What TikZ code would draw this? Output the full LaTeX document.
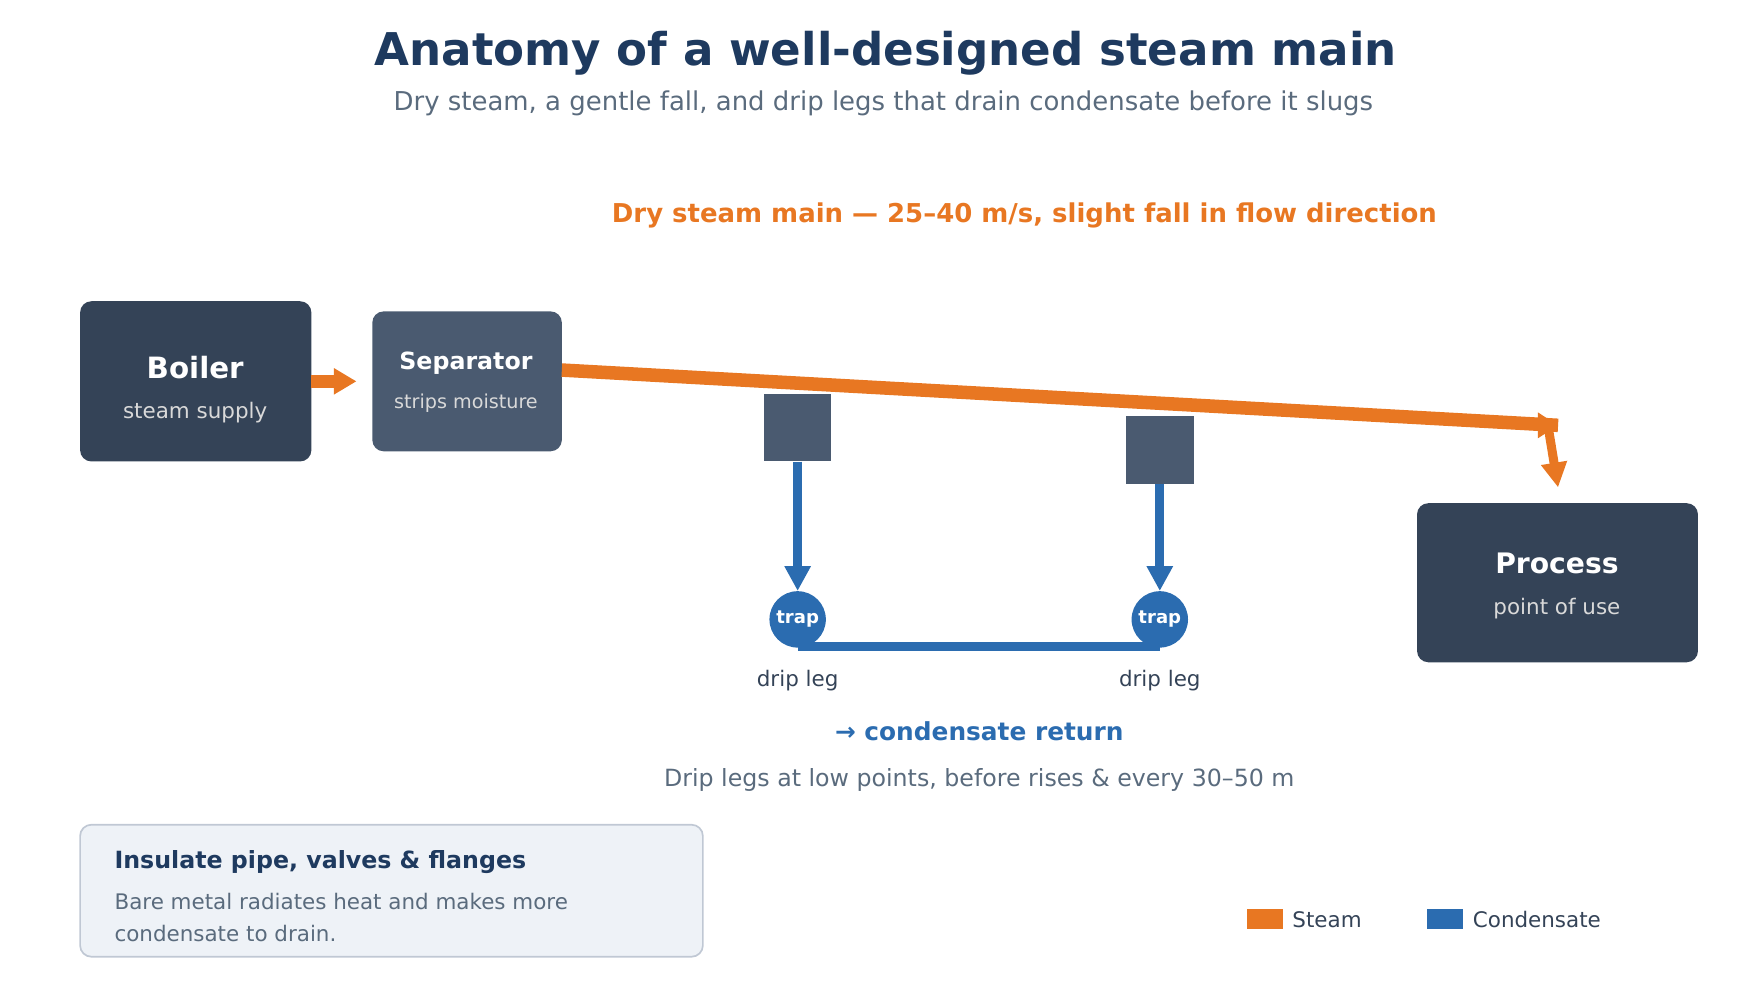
\documentclass[tikz,border=0pt]{standalone}
\usepackage{fontspec}
\setmainfont{DejaVu Sans}
\usetikzlibrary{arrows.meta,positioning}
\definecolor{navy}{HTML}{1E3A5F}
\definecolor{slate}{HTML}{344357}
\definecolor{slatelt}{HTML}{4A5A70}
\definecolor{steam}{HTML}{E87722}
\definecolor{cond}{HTML}{2B6CB0}
\definecolor{greytxt}{HTML}{5A6B7D}
\definecolor{notebg}{HTML}{EEF2F7}
\definecolor{noteedge}{HTML}{C0C8D4}
\newcommand{\fs}[1]{\fontsize{#1}{#1}\selectfont}
\begin{document}
\begin{tikzpicture}[x=1pt,y=-1pt,
    pocket/.style={fill=slatelt,minimum width=60pt,minimum height=60pt,inner sep=0pt},
    trap/.style={circle,fill=cond,minimum size=50pt,inner sep=0pt,text=white,font=\fs{16}\bfseries},
    condline/.style={cond,line width=8pt,-{Triangle[length=22pt,width=22pt]}},
    small/.style={font=\fs{19},text=slate}]
  \useasboundingbox (0,0) rectangle (1560,886);

  % titles
  \node[font=\fs{40}\bfseries,text=navy] (title) at (785,47) {Anatomy of a well-designed steam main};
  \node[font=\fs{23}\selectfont,text=greytxt] (sub) at (783,92) {Dry steam, a gentle fall, and drip legs that drain condensate before it slugs};
  \node[font=\fs{23}\bfseries,text=steam] (mainlbl) at (908,191) {Dry steam main — 25–40 m/s, slight fall in flow direction};

  % equipment
  \fill[slate,rounded corners=10pt] (71,267) rectangle (276,409);
  \node[font=\fs{26}\bfseries,text=white] (boiler) at (173,326) {Boiler};
  \node[font=\fs{19},text=gray!30] at (173,366) {steam supply};
  \fill[slatelt,rounded corners=10pt] (330,276) rectangle (498,400);
  \node[font=\fs{21}\bfseries,text=white] (sep) at (413,322) {Separator};
  \node[font=\fs{17},text=gray!30] at (413,357) {strips moisture};
  \fill[slate,rounded corners=10pt] (1256,446) rectangle (1505,587);
  \node[font=\fs{25}\bfseries,text=white] (proc) at (1380,499) {Process};
  \node[font=\fs{19},text=gray!30] at (1380,539) {point of use};

  % steam path
  \coordinate (b1) at (276,338);
  \coordinate (s1) at (316,338);
  \coordinate (m0) at (498,328);
  \coordinate (m1) at (1381,377);
  \coordinate (p1) at (1381,432);
  \draw[steam,line width=12pt,-{Triangle[length=20pt,width=22pt]}] (b1) -- (s1);
  \draw[steam,line width=12pt] (m0) -- (m1);
  \draw[steam,-{Triangle[length=18pt,width=22pt]},line width=4pt] (1340,377) -- (m1);
  \draw[steam,line width=8pt,-{Triangle[length=22pt,width=22pt]}] (1372,377) -- (p1);

  % drip legs
  \node[pocket] (pk1) at (707,379) {};
  \node[pocket] (pk2) at (1028,399) {};
  \node[trap] (t1) at (707,549) {trap};
  \node[trap] (t2) at (1028,549) {trap};
  \draw[condline] (pk1.south) -- (t1.north);
  \draw[condline] (pk2.south) -- (t2.north);
  \draw[cond,line width=8pt] (707,573) -- (1028,573);
  \node[small] (dl1) at (707,603) {drip leg};
  \node[small] (dl2) at (1028,603) {drip leg};
  \node[font=\fs{22}\bfseries,text=cond] (ret) at (868,648) {→ condensate return};
  \node[font=\fs{21},text=greytxt] (note) at (868,691) {Drip legs at low points, before rises \& every 30–50 m};

  % insulation note
  \draw[fill=notebg,draw=noteedge,line width=1.5pt,rounded corners=10pt] (71,731) rectangle (623,848);
  \node[anchor=west,font=\fs{21}\bfseries,text=navy] (ins) at (98,764) {Insulate pipe, valves \& flanges};
  \node[anchor=west,font=\fs{19},text=greytxt] at (98,799) {Bare metal radiates heat and makes more};
  \node[anchor=west,font=\fs{19},text=greytxt] at (98,827) {condensate to drain.};

  % legend
  \fill[steam] (1105,806) rectangle (1137,823);
  \node[small,anchor=west] (lgs) at (1142,815) {Steam};
  \fill[cond] (1265,806) rectangle (1297,823);
  \node[small,anchor=west] (lgc) at (1302,815) {Condensate};
\end{tikzpicture}
\end{document}
